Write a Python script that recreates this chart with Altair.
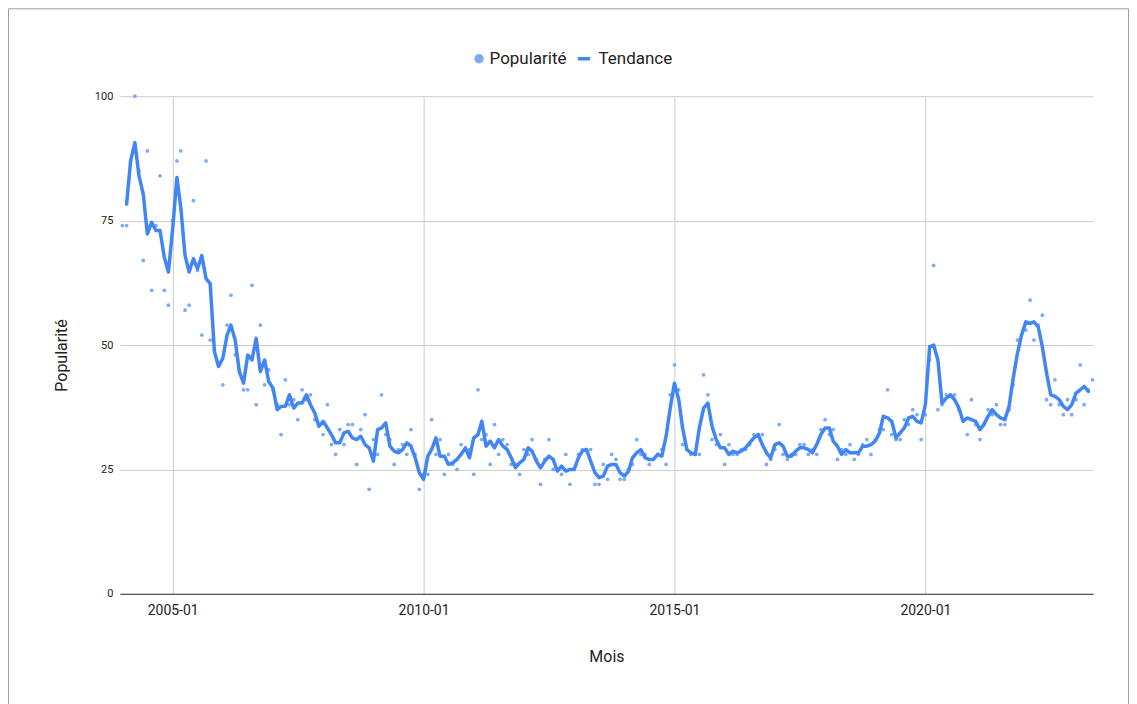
import altair as alt
import pandas as pd

# Monthly popularity values, 2004-01 .. 2023-05
popularite = [
    74, 74, 87, 100, 85, 67, 89, 61, 74, 84,
    61, 58, 75, 87, 89, 57, 58, 79, 65, 52,
    87, 51, 49, 46, 42, 54, 60, 48, 45, 41,
    41, 62, 38, 54, 42, 45, 41, 38, 32, 43,
    38, 39, 35, 41, 39, 40, 35, 34, 32, 38,
    30, 28, 33, 30, 34, 34, 26, 33, 36, 21,
    31, 28, 40, 32, 31, 26, 29, 30, 28, 33,
    28, 21, 24, 24, 35, 28, 31, 24, 28, 26,
    25, 30, 29, 29, 24, 41, 31, 32, 26, 34,
    28, 31, 30, 26, 26, 24, 29, 28, 31, 27,
    22, 27, 31, 25, 25, 24, 28, 22, 25, 28,
    29, 29, 29, 22, 22, 26, 23, 28, 27, 23,
    23, 25, 26, 31, 28, 28, 26, 27, 28, 29,
    26, 40, 46, 41, 30, 29, 28, 28, 28, 44,
    40, 31, 30, 32, 26, 30, 28, 28, 29, 29,
    30, 32, 32, 32, 26, 27, 29, 34, 28, 27,
    28, 28, 30, 30, 28, 29, 28, 33, 35, 32,
    33, 27, 29, 28, 30, 27, 28, 30, 31, 28,
    31, 33, 33, 41, 32, 31, 31, 35, 34, 37,
    36, 31, 36, 47, 66, 37, 38, 40, 40, 40,
    37, 35, 32, 39, 34, 31, 34, 37, 36, 38,
    34, 34, 37, 42, 51, 52, 53, 59, 51, 54,
    56, 39, 38, 43, 38, 36, 39, 36, 39, 46,
    38, 41, 43,
]

mois = []
yr, mo = 2004, 1
for _ in popularite:
    mois.append(f"{yr:04d}-{mo:02d}-01T00:00:00")
    mo += 1
    if mo > 12:
        mo = 1
        yr += 1

tick_years = [2005, 2010, 2015, 2020]
y_ticks = [0, 25, 50, 75, 100]
series_names = ["Popularité", "Tendance"]

df = pd.DataFrame({"Mois": mois, "Popularité": popularite})

FONT = "Roboto"
TXT = "#222222"

x_scale = alt.Scale(domain=[alt.DateTime(year=2003, month=12, date=14),
                            alt.DateTime(year=2023, month=5, date=5)])
y_scale = alt.Scale(domain=[0, 100])

x_axis = alt.Axis(
    values=[alt.DateTime(year=y, month=1, date=1) for y in tick_years],
    format="%Y-%m", title="Mois", labelFont=FONT, labelFontSize=14,
    labelColor=TXT, titleFont=FONT, titleFontSize=16, titleColor=TXT,
    titleFontWeight="normal", ticks=False, domainColor="#333333",
    gridColor="#cccccc", labelPadding=10, labelAngle=0,
    titleY=63, titleBaseline="middle",
)
y_axis = alt.Axis(
    values=y_ticks, title="Popularité", labelFont=FONT, labelFontSize=11,
    labelColor=TXT, titleFont=FONT, titleFontSize=16, titleColor=TXT,
    titleFontWeight="normal", ticks=False, domain=False,
    gridColor="#cccccc", labelPadding=7,
    titleX=-58, titleY=259, titleAngle=270, titleAlign="center",
    titleBaseline="middle",
)

base = alt.Chart(df)

points = base.transform_calculate(serie="'Popularité'").mark_circle(
    size=14, opacity=1
).encode(
    x=alt.X("Mois:T", scale=x_scale, axis=x_axis),
    y=alt.Y("Popularité:Q", scale=y_scale, axis=y_axis),
    fill=alt.Fill(
        "serie:N",
        scale=alt.Scale(domain=[series_names[0]], range=["#7baaf7"]),
        legend=alt.Legend(
            title=None, orient="none", legendX=351, legendY=-46,
            labelFont=FONT, labelFontSize=17, labelColor=TXT,
            symbolType="circle", symbolSize=90, symbolStrokeWidth=0,
            labelOffset=2, padding=0,
        ),
    ),
)

trend = base.transform_window(
    tendance="mean(Popularité)", n="count()", frame=[-1, 1],
    sort=[alt.SortField("Mois", order="ascending")],
).transform_filter("datum.n == 3").transform_calculate(
    serie="'Tendance'"
).mark_line(strokeWidth=3.5, strokeJoin="round", strokeCap="round").encode(
    x=alt.X("Mois:T", scale=x_scale, axis=x_axis),
    y=alt.Y("tendance:Q", scale=y_scale, axis=y_axis),
    stroke=alt.Stroke(
        "serie:N",
        scale=alt.Scale(domain=[series_names[1]], range=["#4285F4"]),
        legend=alt.Legend(
            title=None, orient="none", legendX=456, legendY=-46,
            labelFont=FONT, labelFontSize=17, labelColor=TXT,
            symbolType="stroke", symbolSize=150, symbolStrokeWidth=3.5,
            labelOffset=6, padding=0,
        ),
    ),
)

frame = alt.Chart(pd.DataFrame({"k": [0]})).mark_rect(
    fillOpacity=0, stroke="#9e9e9e", strokeWidth=1
).encode(
    x=alt.value(-111.5), x2=alt.value(1009.5),
    y=alt.value(-87.5), y2=alt.value(700),
)

chart = alt.layer(points, trend, frame).properties(
    width=974, height=498,
    autosize=alt.AutoSizeParams(type="none"),
    padding={"left": 112, "top": 88, "right": 36, "bottom": 110},
    background="white",
).configure_view(stroke=None)

chart.save("out.html", embed_options={"renderer": "svg", "actions": False})
